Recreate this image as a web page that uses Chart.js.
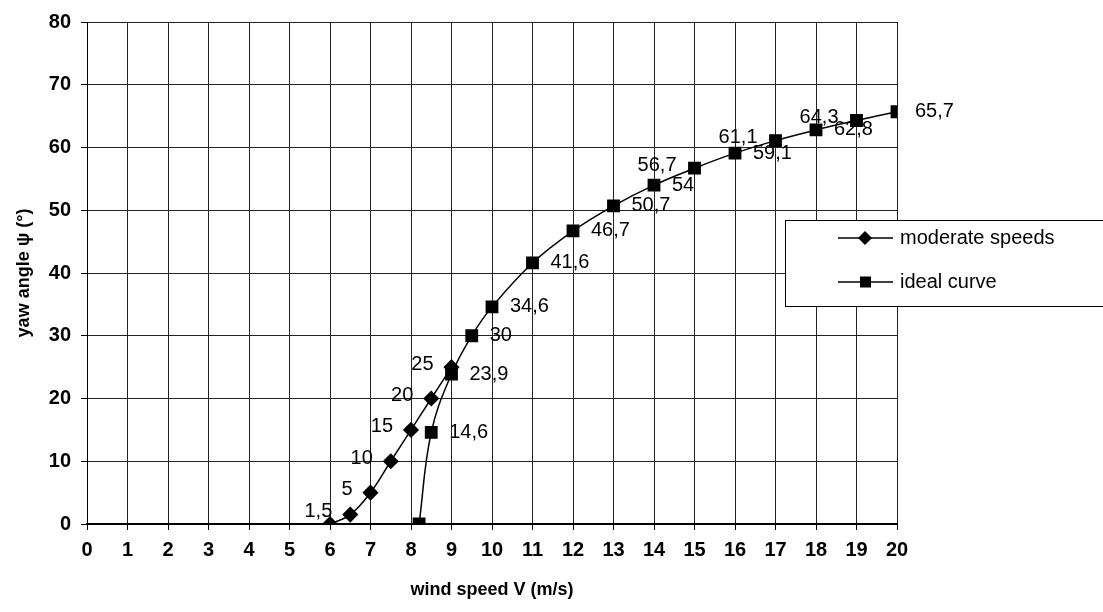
<!DOCTYPE html>
<html>
<head>
<meta charset="utf-8">
<script src="https://cdn.jsdelivr.net/npm/chart.js@4/dist/chart.umd.min.js"></script>
<style>
  html, body { margin: 0; padding: 0; background: #fff; }
  #wrap { width: 1103px; height: 612px; position: relative; }
</style>
</head>
<body>
<div id="wrap"><canvas id="yaw-chart"></canvas></div>
<script>
// wind speed (m/s) and yaw angle (deg) for both series
const moderateSpeed = [6, 6.5, 7, 7.5, 8, 8.5, 9];
const moderateAngle = [0, 1.5, 5, 10, 15, 20, 25];
const moderateLabels = ["", "1,5", "5", "10", "15", "20", "25"];

const idealSpeed = [8.2, 8.5, 9, 9.5, 10, 11, 12, 13, 14, 15, 16, 17, 18, 19, 20];
const idealAngle = [0, 14.6, 23.9, 30, 34.6, 41.6, 46.7, 50.7, 54, 56.7, 59.1, 61.1, 62.8, 64.3, 65.7];
const idealLabels = ["", "14,6", "23,9", "30", "34,6", "41,6", "46,7", "50,7", "54", "56,7", "59,1", "61,1", "62,8", "64,3", "65,7"];

const seriesNames = ["moderate speeds", "ideal curve"];
const xTicks = [0, 1, 2, 3, 4, 5, 6, 7, 8, 9, 10, 11, 12, 13, 14, 15, 16, 17, 18, 19, 20];
const yTicks = [0, 10, 20, 30, 40, 50, 60, 70, 80];

const toPoints = (xs, ys) => xs.map((x, i) => ({ x: x, y: ys[i] }));

// value labels next to each marker (Excel style)
const valueLabels = {
    id: "valueLabels",
    afterDatasetsDraw(chart) {
        const ctx = chart.ctx;
        ctx.save();
        ctx.font = "20px 'Liberation Sans', Arial, sans-serif";
        ctx.fillStyle = "#000";
        ctx.textBaseline = "middle";
        const sets = [
            { labels: moderateLabels, side: () => "left" },
            { labels: idealLabels, side: (i) => ([9, 11, 13].includes(i) ? "left" : "right") }
        ];
        sets.forEach((s, di) => {
            const meta = chart.getDatasetMeta(di);
            meta.data.forEach((pt, i) => {
                const txt = s.labels[i];
                if (!txt) return;
                if (s.side(i) === "left") {
                    ctx.textAlign = "right";
                    ctx.fillText(txt, pt.x - 18, pt.y - 3);
                } else {
                    ctx.textAlign = "left";
                    ctx.fillText(txt, pt.x + 18, pt.y);
                }
            });
        });
        ctx.restore();
    }
};

// boxed legend sitting over the right edge of the plot
const boxLegend = {
    id: "boxLegend",
    afterDraw(chart) {
        const ctx = chart.ctx;
        ctx.save();
        ctx.fillStyle = "#fff";
        ctx.fillRect(786, 220, 330, 86);
        ctx.strokeStyle = "#000";
        ctx.lineWidth = 1;
        ctx.strokeRect(785.5, 220.5, 330, 86);
        ctx.font = "20px 'Liberation Sans', Arial, sans-serif";
        ctx.textBaseline = "middle";
        ctx.textAlign = "left";
        const rows = [238, 282];
        rows.forEach((y, i) => {
            ctx.lineWidth = 1.5;
            ctx.beginPath();
            ctx.moveTo(838, y);
            ctx.lineTo(893, y);
            ctx.stroke();
            ctx.fillStyle = "#000";
            ctx.beginPath();
            if (i === 0) {
                ctx.moveTo(865, y - 7);
                ctx.lineTo(872, y);
                ctx.lineTo(865, y + 7);
                ctx.lineTo(858, y);
                ctx.closePath();
                ctx.fill();
            } else {
                ctx.fillRect(860, y - 5.5, 11, 11);
            }
            ctx.fillText(seriesNames[i], 900, y);
        });
        ctx.restore();
    }
};

const ctx = document.getElementById("yaw-chart").getContext("2d");
new Chart(ctx, {
    type: "line",
    data: {
        datasets: [
            {
                label: seriesNames[0],
                data: toPoints(moderateSpeed, moderateAngle),
                borderColor: "#000",
                backgroundColor: "#000",
                borderWidth: 1.5,
                pointStyle: "rectRot",
                pointRadius: 7,
                pointHoverRadius: 7,
                tension: 0.4,
                fill: false
            },
            {
                label: seriesNames[1],
                data: toPoints(idealSpeed, idealAngle),
                borderColor: "#000",
                backgroundColor: "#000",
                borderWidth: 1.5,
                pointStyle: "rect",
                pointRadius: 8,
                pointHoverRadius: 8,
                tension: 0.4,
                fill: false
            }
        ]
    },
    options: {
        responsive: true,
        maintainAspectRatio: false,
        animation: false,
        layout: { padding: { top: 19, right: 206, left: 0, bottom: 0 } },
        plugins: {
            legend: { display: false },
            tooltip: { enabled: false }
        },
        scales: {
            x: {
                type: "linear",
                min: 0,
                max: 20,
                afterFit: (scale) => { scale.height = 88; },
                afterBuildTicks: (scale) => { scale.ticks = xTicks.map((v) => ({ value: v })); },
                ticks: {
                    color: "#000",
                    padding: 8,
                    maxRotation: 0,
                    autoSkip: false,
                    font: { family: "'Liberation Sans', Arial, sans-serif", size: 20, weight: "bold" }
                },
                grid: { color: "#222", tickColor: "#000", tickLength: 6, lineWidth: 1 },
                border: { color: "#000", width: 2 },
                title: {
                    display: true,
                    text: "wind speed V (m/s)",
                    color: "#000",
                    padding: { top: 0, bottom: 11 },
                    font: { family: "'Liberation Sans', Arial, sans-serif", size: 18, weight: "bold" }
                }
            },
            y: {
                type: "linear",
                min: 0,
                max: 80,
                afterFit: (scale) => { scale.width = 87; },
                afterBuildTicks: (scale) => { scale.ticks = yTicks.map((v) => ({ value: v })); },
                ticks: {
                    color: "#000",
                    padding: 10,
                    font: { family: "'Liberation Sans', Arial, sans-serif", size: 20, weight: "bold" }
                },
                grid: { color: "#222", tickColor: "#000", tickLength: 6, lineWidth: 1 },
                border: { color: "#000", width: 1 },
                title: {
                    display: true,
                    text: "yaw angle ψ (°)",
                    color: "#000",
                    padding: { top: 13, bottom: 0 },
                    font: { family: "'Liberation Sans', Arial, sans-serif", size: 18, weight: "bold" }
                }
            }
        }
    },
    plugins: [valueLabels, boxLegend]
});
</script>
</body>
</html>
